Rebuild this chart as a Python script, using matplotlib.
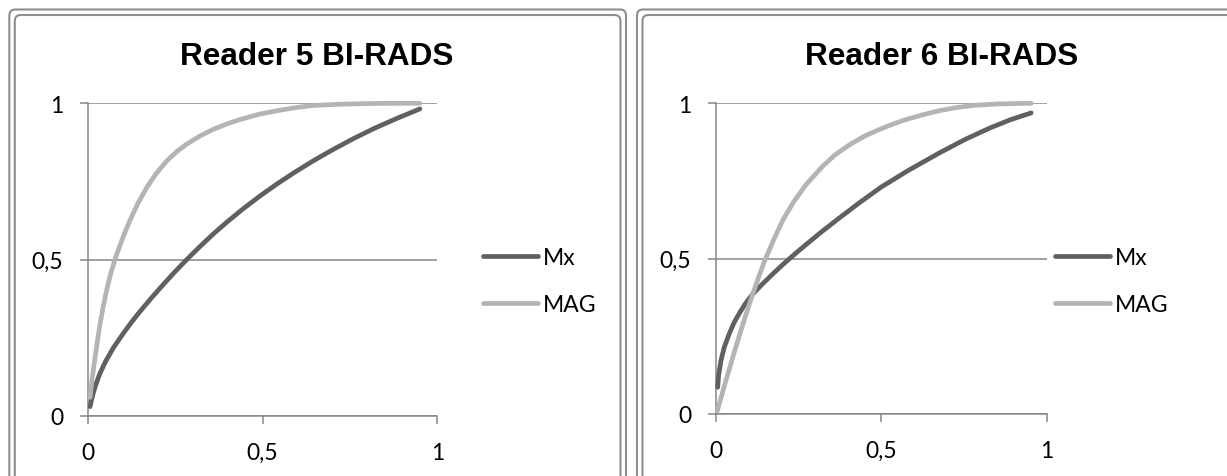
import matplotlib.pyplot as plt
from matplotlib.patches import FancyBboxPatch
from matplotlib.transforms import IdentityTransform

plt.rcParams['font.family'] = ['Lato', 'DejaVu Sans']

W, H = 1227, 477

titles = ['Reader 5 BI-RADS', 'Reader 6 BI-RADS']
series_names = ['Mx', 'MAG']
tick_vals = [0, 0.5, 1]
tick_labels = ['0', '0,5', '1']

# reader 5 ROC curves (false positive fraction, true positive fraction)
r5_mx_fpf = [0.006, 0.010, 0.015, 0.022, 0.034, 0.050, 0.073, 0.100, 0.125, 0.150, 0.180, 0.210,
             0.245, 0.282, 0.320, 0.360, 0.400, 0.445, 0.492, 0.540, 0.590, 0.645, 0.700, 0.760,
             0.820, 0.885, 0.950]
r5_mx_tpf = [0.029, 0.050, 0.072, 0.098, 0.135, 0.173, 0.218, 0.262, 0.300, 0.335, 0.375, 0.413,
             0.456, 0.499, 0.541, 0.583, 0.622, 0.663, 0.703, 0.741, 0.778, 0.816, 0.851, 0.887,
             0.920, 0.952, 0.982]
r5_mag_fpf = [0.006, 0.012, 0.020, 0.027, 0.034, 0.043, 0.053, 0.065, 0.080, 0.100, 0.120, 0.143,
              0.168, 0.195, 0.225, 0.255, 0.282, 0.320, 0.359, 0.400, 0.435, 0.490, 0.550, 0.600,
              0.645, 0.720, 0.788, 0.870, 0.950]
r5_mag_tpf = [0.059, 0.120, 0.185, 0.240, 0.290, 0.346, 0.400, 0.455, 0.510, 0.571, 0.625, 0.680,
              0.730, 0.775, 0.815, 0.846, 0.869, 0.895, 0.917, 0.935, 0.948, 0.965, 0.978, 0.987,
              0.993, 0.997, 0.999, 1.000, 1.000]

# reader 6 ROC curves
r6_mx_fpf = [0.005, 0.008, 0.015, 0.025, 0.040, 0.055, 0.071, 0.090, 0.111, 0.140, 0.171, 0.195,
             0.217, 0.245, 0.272, 0.320, 0.373, 0.435, 0.499, 0.580, 0.675, 0.750, 0.827, 0.890,
             0.953]
r6_mx_tpf = [0.086, 0.125, 0.172, 0.215, 0.258, 0.295, 0.325, 0.357, 0.386, 0.418, 0.450, 0.474,
             0.495, 0.521, 0.545, 0.587, 0.631, 0.681, 0.730, 0.783, 0.840, 0.882, 0.920, 0.947,
             0.969]
r6_mag_fpf = [0.004, 0.015, 0.030, 0.050, 0.071, 0.090, 0.111, 0.128, 0.146, 0.172, 0.202, 0.235,
              0.272, 0.323, 0.360, 0.403, 0.450, 0.499, 0.540, 0.575, 0.625, 0.675, 0.725, 0.776,
              0.850, 0.953]
r6_mag_tpf = [0.010, 0.052, 0.108, 0.180, 0.254, 0.318, 0.386, 0.438, 0.490, 0.555, 0.624, 0.683,
              0.738, 0.798, 0.834, 0.866, 0.895, 0.918, 0.935, 0.948, 0.963, 0.976, 0.986, 0.993,
              0.998, 1.000]

readers = [
    ((r5_mx_fpf, r5_mx_tpf), (r5_mag_fpf, r5_mag_tpf)),
    ((r6_mx_fpf, r6_mx_tpf), (r6_mag_fpf, r6_mag_tpf)),
]

colors = ['#606060', '#b4b4b4']
grid_col = '#878787'
frame_col = '#8e8e8e'

# pixel boxes: plot area (left, top, right, bottom), frame left/right, title x, legend x
plot_boxes = [(88, 104.3, 437.3, 416.7), (716, 104.3, 1046.7, 415.0)]
frames = [(9.3, 626), (637, 1247)]
title_x = [317, 941.5]
legend_x = [483, 1055]


def px_rect(l, t, r, b):
    return [l / W, 1 - b / H, (r - l) / W, (b - t) / H]


fig = plt.figure(figsize=(W / 100, H / 100), dpi=100)

# double rounded border round each chart
for fl, fr in frames:
    for inset in (0, 5.5):
        box = FancyBboxPatch((fl + inset, -40), fr - fl - 2 * inset, H - 10.5 - inset + 40,
                             boxstyle='round,pad=0,rounding_size=6',
                             transform=IdentityTransform(), fill=False,
                             ec=frame_col, lw=1.5)
        fig.add_artist(box)

for i, (box, curves) in enumerate(zip(plot_boxes, readers)):
    ax = fig.add_axes(px_rect(*box))
    for (xs, ys), name, c in zip(curves, series_names, colors):
        ax.plot(xs, ys, color=c, lw=3.4, solid_capstyle='round',
                solid_joinstyle='round', label=name, clip_on=False, zorder=3)
    ax.set_xlim(0, 1)
    ax.set_ylim(0, 1)
    ax.set_xticks(tick_vals)
    ax.set_xticklabels(tick_labels)
    ax.set_yticks(tick_vals)
    ax.set_yticklabels(tick_labels)
    ax.grid(axis='y', color=grid_col, lw=1.1)
    ax.set_axisbelow(True)
    for s in ('top', 'right'):
        ax.spines[s].set_visible(False)
    for s in ('left', 'bottom'):
        ax.spines[s].set_color(grid_col)
        ax.spines[s].set_linewidth(1.1)
    ax.tick_params(axis='both', direction='out', length=5.8, width=1.1,
                   color=grid_col, labelsize=16.5, labelcolor='black')
    ax.tick_params(axis='y', pad=12)
    ax.tick_params(axis='x', pad=13)

    fig.text(title_x[i] / W, 1 - 57 / H, titles[i], ha='center', va='center',
             fontsize=22.7, fontweight='bold', family='Liberation Sans')

    ax.legend(loc='center left', bbox_to_anchor=(legend_x[i] / W, 1 - 282 / H),
              bbox_transform=fig.transFigure, frameon=False, fontsize=16.5,
              handlelength=2.4, handletextpad=0.22, labelspacing=1.13,
              borderpad=0, borderaxespad=0)

fig.savefig('out.png', dpi=100)
